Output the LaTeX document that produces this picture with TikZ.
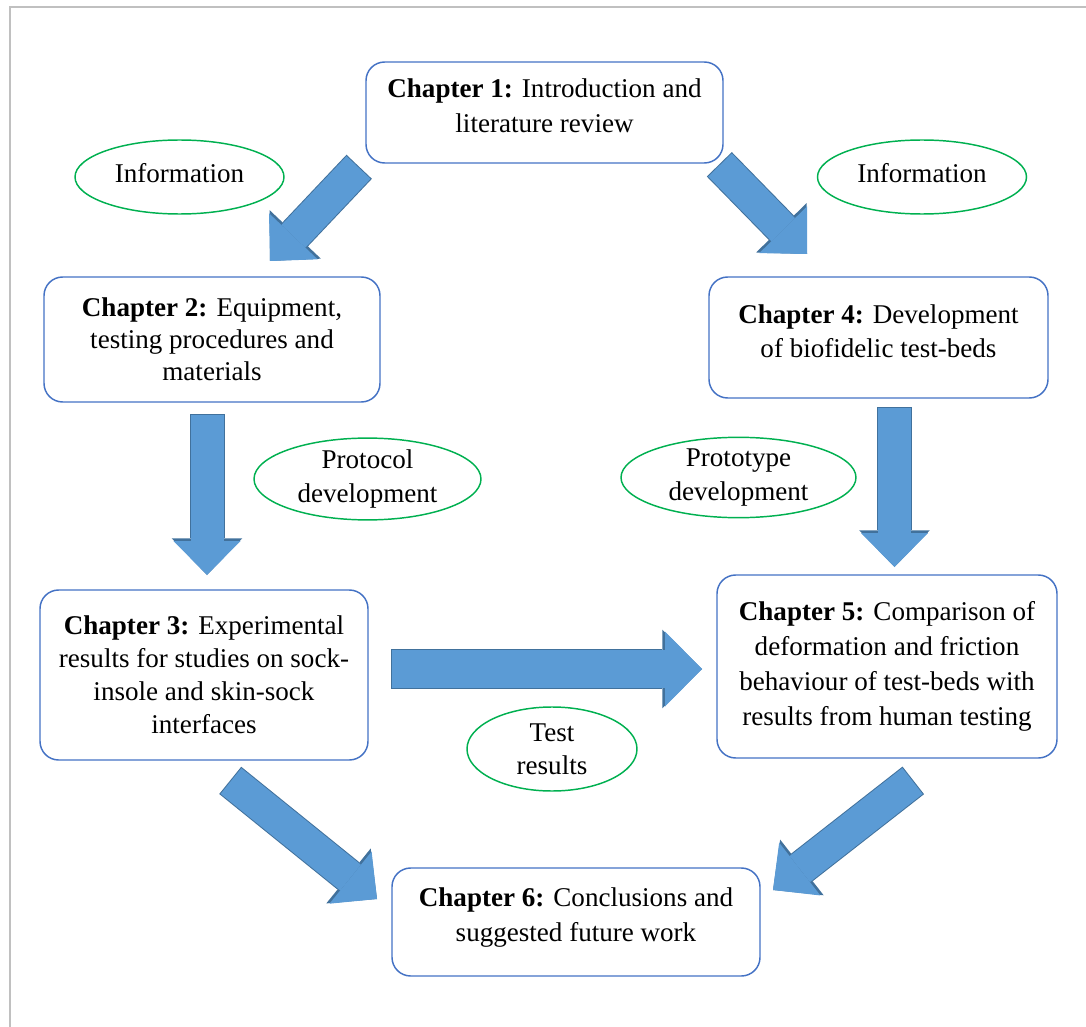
\documentclass[tikz,border=0pt]{standalone}
\usepackage{fontspec}
\setmainfont{Liberation Serif}
\usetikzlibrary{arrows.meta,shapes.geometric}
\definecolor{boxblue}{HTML}{4472C4}
\definecolor{ovalgreen}{HTML}{00B050}
\definecolor{arrowfill}{HTML}{5B9BD5}
\definecolor{arrowedge}{HTML}{41719C}
\definecolor{framegray}{HTML}{C0C0C0}
\newcommand\padbelow[1]{\rule[-#1]{0pt}{#1}}
\tikzset{
  chapbox/.style={draw=boxblue,line width=1.1pt,rounded corners=14pt,align=center,inner sep=0pt,
    font=\fontsize{20.3pt}{26pt}\selectfont},
  infoval/.style={ellipse,draw=ovalgreen,line width=1.1pt,align=center,inner sep=0pt,
    font=\fontsize{20.3pt}{25pt}\selectfont},
  bigArrow/.style={draw=arrowfill,line width=24.75pt,-{Triangle[length=25.5pt,width=50.25pt,line width=0pt]},
    preaction={draw=arrowedge,line width=26.25pt,shorten <=-0.75pt,
      -{Triangle[length=27.5pt,width=53pt,line width=0pt]}}},
  wideArrow/.style={draw=arrowfill,line width=28.5pt,-{Triangle[length=27.75pt,width=56.25pt,line width=0pt]},
    preaction={draw=arrowedge,line width=30pt,shorten <=-0.75pt,
      -{Triangle[length=29.75pt,width=59pt,line width=0pt]}}}
}

\begin{document}
\begin{tikzpicture}[x=0.75pt,y=-0.75pt]
  \useasboundingbox (0,0) rectangle (1086,1027);
  \draw[framegray,line width=1.5pt] (9.5,1027) -- (9.5,7) -- (1086,7);

  % chapters
  \node[chapbox,minimum width=267.75pt,minimum height=75.75pt] (ch1) at (544.5,112.5)
    {\textbf{Chapter 1:} Introduction and\\literature review\padbelow{10.5pt}};
  \node[chapbox,minimum width=252pt,minimum height=93.75pt,
    font=\fontsize{20.3pt}{24pt}\selectfont] (ch2) at (212,339.5)
    {\textbf{Chapter 2:} Equipment,\\testing procedures and\\materials};
  \node[chapbox,minimum width=254.25pt,minimum height=90.75pt] (ch4) at (878.5,337.5)
    {\textbf{Chapter 4:} Development\\of biofidelic test-beds\padbelow{9.75pt}};
  \node[chapbox,minimum width=246pt,minimum height=127.5pt,
    font=\fontsize{20.3pt}{24.75pt}\selectfont] (ch3) at (204,675)
    {\textbf{Chapter 3:} Experimental\\results for studies on sock-\\insole and skin-sock\\interfaces};
  \node[chapbox,minimum width=255pt,minimum height=137.25pt,
    font=\fontsize{20.3pt}{26.25pt}\selectfont] (ch5) at (887,666.5)
    {\textbf{Chapter 5:} Comparison of\\deformation and friction\\behaviour of test-beds with\\results from human testing};
  \node[chapbox,minimum width=276pt,minimum height=81pt] (ch6) at (576,922)
    {\textbf{Chapter 6:} Conclusions and\\suggested future work\padbelow{11pt}};

  % ovals
  \node[infoval,minimum width=156.75pt,minimum height=55.5pt] (info1) at (179.5,177) {Information\padbelow{6pt}};
  \node[infoval,minimum width=156.75pt,minimum height=55.5pt] (info2) at (922,177) {Information\padbelow{6pt}};
  \node[infoval,minimum width=170.25pt,minimum height=54pt] (proto1) at (367.5,479) {Protocol\\development};
  \node[infoval,minimum width=176.25pt,minimum height=56.25pt] (proto2) at (738.5,477.5) {Prototype\\development};
  \node[infoval,minimum width=127.5pt,minimum height=63pt] (tests) at (552,749) {Test\\results};

  % block arrows
  \coordinate (a12s) at (358.5,167.5);  \coordinate (a12e) at (270,261);
  \coordinate (a14s) at (720,165);      \coordinate (a14e) at (807,254);
  \coordinate (a23s) at (207,415);      \coordinate (a23e) at (207,575);
  \coordinate (a45s) at (894.5,408);    \coordinate (a45e) at (894.5,567);
  \coordinate (a35s) at (392,669);      \coordinate (a35e) at (702,669);
  \coordinate (a36s) at (231,781);      \coordinate (a36e) at (377,899);
  \coordinate (a56s) at (912.5,781);    \coordinate (a56e) at (773,890);
  \draw[bigArrow] (a12s) -- (a12e);
  \draw[bigArrow] (a14s) -- (a14e);
  \draw[bigArrow] (a23s) -- (a23e);
  \draw[bigArrow] (a45s) -- (a45e);
  \draw[wideArrow] (a35s) -- (a35e);
  \draw[bigArrow] (a36s) -- (a36e);
  \draw[bigArrow] (a56s) -- (a56e);
\end{tikzpicture}
\end{document}
